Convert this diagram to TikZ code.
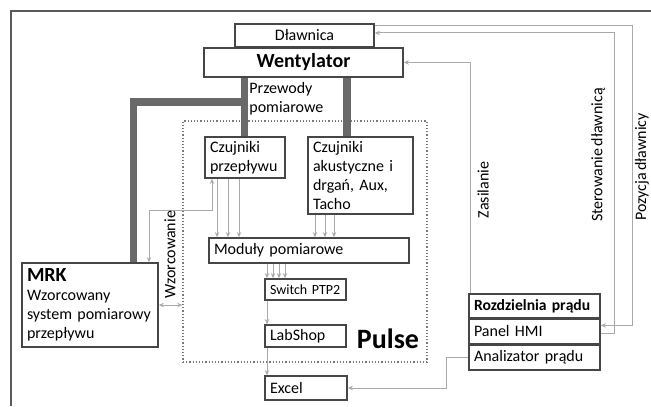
\documentclass[tikz,border=0pt]{standalone}
\usepackage{fontspec}
\setmainfont{Carlito}[WordSpace=0.75]
\usepackage{tikz}
\usetikzlibrary{arrows.meta,positioning,calc}
\definecolor{boxgray}{RGB}{70,70,70}
\definecolor{bargray}{RGB}{105,105,105}
\definecolor{wiregray}{RGB}{170,170,170}
\definecolor{dotgray}{RGB}{120,120,120}
\definecolor{framegray}{RGB}{90,90,90}
\newcommand{\txt}{\fontsize{8pt}{9.5pt}\selectfont}

\begin{document}
\begin{tikzpicture}[
    x=0.5pt, y=-0.5pt,
    >={Stealth[length=2.6pt,width=2.2pt]},
    box/.style={
        draw=boxgray,
        line width=0.7pt,
        fill=white,
        inner xsep=2.5pt,
        inner ysep=0pt,
        align=left,
        font=\txt
    },
    cbox/.style={box, align=center},
    bar/.style={draw=bargray, line width=3.6pt},
    wire/.style={draw=wiregray, line width=0.5pt},
    label/.style={font=\txt, inner sep=0pt}
]

\useasboundingbox (0,0) rectangle (651,406);

% frame
\draw[framegray, line width=0.75pt] (11,406) -- (11,11) -- (651,11);

% Pulse area
\node[draw=dotgray, densely dotted, line width=0.6pt, minimum width=122pt,
      minimum height=120.5pt, inner sep=0pt] (pulse) at (305,241.5) {};
\node[font=\fontsize{14pt}{16pt}\selectfont\bfseries, inner sep=0pt]
    (pulsetxt) at (388,339) {Pulse};

% top boxes
\node[cbox, minimum width=69.5pt, minimum height=11.5pt] (dlawnica)
    at (304.5,35.5) {Dławnica};
\node[cbox, minimum width=99.5pt, minimum height=14.5pt,
      font=\fontsize{10pt}{12pt}\selectfont\bfseries] (went)
    at (303.5,62.5) {Wentylator};

% sensors
\node[box, text width=35pt, minimum height=20.5pt] (czprz)
    at (245,157.5) {Czujniki\\przepływu};
\node[box, text width=47.5pt, minimum height=38.5pt] (czak)
    at (360.5,175.5) {Czujniki\\akustyczne i\\drgań, Aux,\\Tacho};

\node[box, text width=95pt, minimum height=12.5pt] (modul)
    at (309,250.5) {Moduły pomiarowe};
\node[box, text width=35.5pt, minimum height=10.5pt,
      font=\fontsize{7pt}{8pt}\selectfont] (switch)
    at (305.5,289.5) {Switch PTP2};
\node[box, text width=35.5pt, minimum height=11pt] (labshop)
    at (305.5,336) {LabShop};
\node[box, text width=36pt, minimum height=12pt] (excel)
    at (306,388) {Excel};

% MRK
\node[box, text width=63pt, minimum height=42pt] (mrk)
    at (90,305)
    {{\fontsize{10pt}{12pt}\selectfont\bfseries MRK}\\Wzorcowany\\system pomiarowy\\przepływu};

% Rozdzielnia
\node[box, text width=60.5pt, minimum height=12pt,
      font=\fontsize{7.8pt}{9pt}\selectfont\bfseries] (rozdz)
    at (534.5,306) {Rozdzielnia prądu};
\node[box, text width=60.5pt, minimum height=12pt, below=0pt of rozdz] (hmi)
    {Panel HMI};
\node[box, text width=60.5pt, minimum height=12.5pt, below=0pt of hmi] (anal)
    {Analizator prądu};

% thick measuring lines
\coordinate (barL) at (133.5,102);
\coordinate (barM) at (244.5,102);
\coordinate (barR) at (347,0);
\draw[bar] (barM |- went.south) -- (barM |- czprz.north);
\draw[bar] (barR |- went.south) -- (barR |- czak.north);
\draw[bar, line join=miter] (248,102) -- (barL) -- (barL |- mrk.north);
\node[label, anchor=west, align=left] (przew) at (249,99)
    {Przewody\\pomiarowe};

% calibration
\coordinate (wzA) at (149,210);
\coordinate (wzB) at (212,210);
\draw[wire,<->] (wzA |- mrk.north) -- (wzA) -- (wzB) -- (wzB |- czprz.south);
\draw[wire,<->] (mrk.east) -- (mrk.east -| pulse.west);
\node[label, rotate=90] (wzlab) at (170,255) {Wzorcowanie};

% signals
\foreach \x in {217,228,239}
    \draw[wire,->] (\x,0 |- czprz.south) -- (\x,0 |- modul.north);
\foreach \x in {315,325,334}
    \draw[wire,->] (\x,0 |- czak.south) -- (\x,0 |- modul.north);
\foreach \x in {267,273,279,285}
    \draw[wire,->] (\x,0 |- modul.south) -- (\x,0 |- switch.north);
\draw[wire,->] (267,0 |- switch.south) -- (267,0 |- labshop.north);
\draw[wire,->] (267,0 |- labshop.south) -- (267,0 |- excel.north);

% power and control
\draw[wire,->] (470,0 |- rozdz.north) |- (went.east);
\node[label, rotate=90] (zaslab) at (483,190) {Zasilanie};

\draw[wire,->] ([yshift=-1pt]hmi.east) -| (614,33) -- (dlawnica.east |- 0,33);
\node[label, rotate=90] (sterlab) at (598,155) {Sterowanie dławnicą};

\draw[wire,->] (dlawnica.east |- 0,26) -- (632,26) |- ([yshift=3pt]hmi.east);
\node[label, rotate=90] (pozlab) at (642,167) {Pozycja dławnicy};

\draw[wire,->] (anal.west) -- (446,0 |- anal.west) |- (excel.east);

\end{tikzpicture}
\end{document}
